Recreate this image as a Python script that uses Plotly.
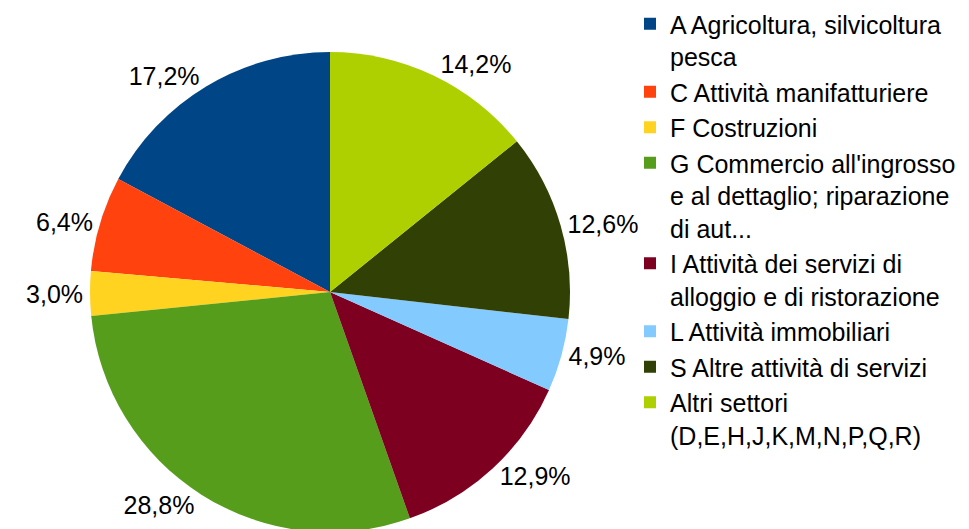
import plotly.graph_objects as go

# Distribuzione delle imprese per settore (quote %)
settori = [
    "A Agricoltura, silvicoltura<br>pesca",
    "C Attività manifatturiere",
    "F Costruzioni",
    "G Commercio all'ingrosso<br>e al dettaglio; riparazione<br>di aut...",
    "I Attività dei servizi di<br>alloggio e di ristorazione",
    "L Attività immobiliari",
    "S Altre attività di servizi",
    "Altri settori<br>(D,E,H,J,K,M,N,P,Q,R)",
]
quote = [17.2, 6.4, 3.0, 28.8, 12.9, 4.9, 12.6, 14.2]
colori = ["#004586", "#ff420e", "#ffd320", "#579d1c",
          "#7e0021", "#83caff", "#314004", "#aecf00"]

W, H = 969, 529
FONT = "Liberation Sans, Arial, sans-serif"

# in plotly il primo spicchio in senso antiorario sta a destra delle 12:
# lo ruoto indietro della sua ampiezza per farlo partire dalle 12 verso sinistra
rot = -360 * quote[0] / sum(quote)

fig = go.Figure(go.Pie(
    labels=settori,
    values=quote,
    sort=False,
    direction="counterclockwise",
    rotation=rot,
    marker=dict(colors=colori, line=dict(width=0)),
    textposition="outside",
    texttemplate="%{percent:.1%}",
    textfont=dict(size=25, color="black", family=FONT),
    automargin=False,
    hoverinfo="label+percent",
    domain=dict(x=[82 / W, 562 / W], y=[5 / H, 1 - 44 / H]),
))

fig.update_layout(
    width=W, height=H,
    separators=",.",
    margin=dict(l=0, r=0, t=0, b=0, autoexpand=False),
    paper_bgcolor="white",
    font=dict(family=FONT, color="black"),
    legend=dict(
        x=622 / W, y=1 + 7 / H, xanchor="left", yanchor="top",
        font=dict(size=25, color="black"),
        valign="top",
        maxheight=H,
        bgcolor="rgba(0,0,0,0)",
    ),
)

fig.write_html("out.html")
